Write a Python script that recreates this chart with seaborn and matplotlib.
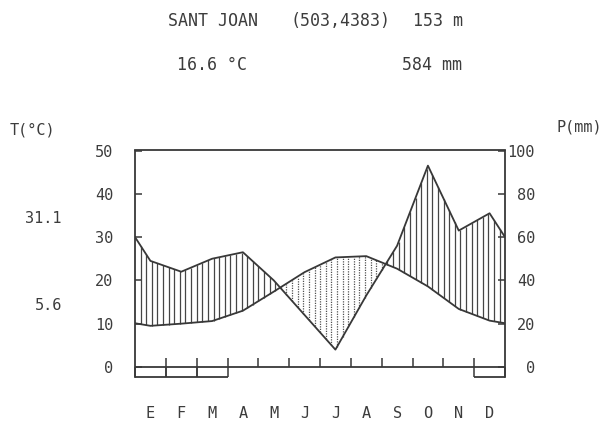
import numpy as np
import pandas as pd
import matplotlib
matplotlib.use('Agg')
import matplotlib.pyplot as plt
import seaborn as sns

# ---------------- data ----------------
months = ['E', 'F', 'M', 'A', 'M', 'J', 'J', 'A', 'S', 'O', 'N', 'D']
temp_c = [9.5, 10.0, 10.6, 13.0, 17.4, 21.9, 25.3, 25.6, 22.7, 18.6, 13.4, 10.7]
precip_mm = [49, 44, 50, 53, 40, 24, 8, 33, 56, 93, 63, 71]
frost_months = [0, 1, 2, 11]
station = 'SANT JOAN'
coords = '(503,4383)'
altitude = '153 m'
mean_temp = '16.6 °C'
total_precip = '584 mm'
abs_max = '31.1'
abs_min = '5.6'
t_ticks = [0, 10, 20, 30, 40, 50]
p_ticks = [0, 20, 40, 60, 80, 100]

# ---------------- style ----------------
sns.set_theme(style='white')
plt.rcParams['font.family'] = ['DejaVu Sans Mono', 'DejaVu Sans']
LINE = '#383838'
TXT = '#3c3c3c'

W, H = 608, 423
fig = plt.figure(figsize=(W / 100, H / 100), dpi=100)
fig.patch.set_facecolor('white')

def fx(px):
    return px / W

def fy(py):
    return 1 - py / H

ax = fig.add_axes([fx(135), fy(376.7), fx(505) - fx(135), fy(150.5) - fy(376.7)])
ax.set_facecolor('white')
ax.set_xlim(0, 12)
ax.set_ylim(-2.25, 50)

# extended series (wrap Dec/Jan to the edges)
x_ext = np.concatenate([[0], np.arange(12) + 0.5, [12]])
t_arr = np.array(temp_c, dtype=float)
p_arr = np.array(precip_mm, dtype=float)
t_edge = (t_arr[0] + t_arr[-1]) / 2
p_edge = (p_arr[0] + p_arr[-1]) / 2
t_ext = np.concatenate([[t_edge], t_arr, [t_edge]])
p_ext = np.concatenate([[p_edge], p_arr, [p_edge]])
df = pd.DataFrame({'x': x_ext, 'T': t_ext, 'P2': p_ext / 2})

# hatching
xs = np.arange(0.18, 12, 0.182)
tf = np.interp(xs, x_ext, t_ext)
pf = np.interp(xs, x_ext, p_ext / 2)
hum = pf > tf
ax.vlines(xs[hum], tf[hum], pf[hum], color='#454545', lw=0.9)
ax.vlines(xs[~hum], pf[~hum], tf[~hum], color='#505050', lw=0.9,
          linestyles=(0, (1.0, 1.0)))

sns.lineplot(data=df, x='x', y='T', ax=ax, color=LINE, lw=1.3, sort=False)
sns.lineplot(data=df, x='x', y='P2', ax=ax, color=LINE, lw=1.3, sort=False)

# zero line, month ticks, frost boxes
ax.axhline(0, color=LINE, lw=1.3)
ax.vlines(np.arange(1, 12), 0, 2.1, color=LINE, lw=1.1)
for m in frost_months:
    ax.hlines(-2.25, m, m + 1, color=LINE, lw=1.3, clip_on=False)
    ax.vlines([m, m + 1], -2.25, 0, color=LINE, lw=1.1, clip_on=False)

# spines
for s in ['top', 'left', 'right']:
    ax.spines[s].set_visible(True)
    ax.spines[s].set_color(LINE)
    ax.spines[s].set_linewidth(1.3)
ax.spines['bottom'].set_visible(False)

ax.set_yticks(t_ticks)
ax.set_yticklabels([str(v) for v in t_ticks])
ax.tick_params(axis='y', direction='in', length=5, width=1.1, color=LINE,
               pad=15.8, labelsize=11, labelcolor=TXT)
ax.set_xticks(np.arange(12) + 0.5)
ax.set_xticklabels(months)
ax.tick_params(axis='x', length=0, pad=21, labelsize=11, labelcolor=TXT)
ax.set_xlabel('')
ax.set_ylabel('')

ax2 = ax.twinx()
ax2.set_ylim(-4.5, 100)
for s in ax2.spines.values():
    s.set_visible(False)
ax2.set_yticks(p_ticks)
ax2.set_yticklabels([str(v) for v in p_ticks])
ax2.tick_params(axis='y', direction='in', length=5, width=1.1, color=LINE,
                pad=21.6, labelsize=11, labelcolor=TXT, right=True)
for lab in ax2.get_yticklabels():
    lab.set_horizontalalignment('right')
ax2.grid(False)
ax.grid(False)

# texts
kw = dict(color=TXT, va='center', ha='left')
fig.text(fx(168), fy(21), station, fontsize=12, **kw)
fig.text(fx(290), fy(21), coords, fontsize=12, **kw)
fig.text(fx(413), fy(21), altitude, fontsize=12, **kw)
fig.text(fx(177), fy(65), mean_temp, fontsize=12, **kw)
fig.text(fx(402), fy(65), total_precip, fontsize=12, **kw)
fig.text(fx(10), fy(130), 'T(°C)', fontsize=11, **kw)
fig.text(fx(557), fy(127), 'P(mm)', fontsize=11, **kw)
fig.text(fx(62), fy(218), abs_max, fontsize=11, color=TXT, va='center', ha='right')
fig.text(fx(62), fy(305), abs_min, fontsize=11, color=TXT, va='center', ha='right')

fig.savefig('out.png', dpi=100, facecolor='white')
